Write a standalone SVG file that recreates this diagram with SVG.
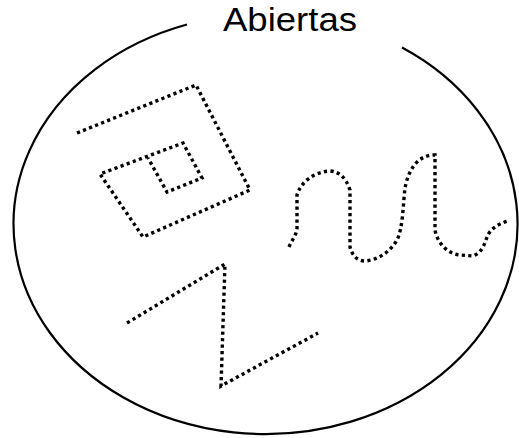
<svg xmlns="http://www.w3.org/2000/svg" width="519" height="438" viewBox="0 0 519 438">
<style>
.dot{fill:none;stroke:#000;stroke-width:3.4;stroke-dasharray:3.2 3.3;stroke-linejoin:miter}
.edge{fill:none;stroke:#000;stroke-width:2.2}
.lbl{font-family:"Liberation Sans",Arial,sans-serif;font-size:33px;fill:#000}
</style>
<rect width="519" height="438" fill="#fff"/>
<g id="set-boundary">
<path class="edge" d="M187,24.5 A252 210 0 1 0 402,47.5"/>
<text class="lbl" x="223" y="31" textLength="134" lengthAdjust="spacingAndGlyphs">Abiertas</text>
</g>
<g id="shapes">
<g id="spiral-square"><polyline class="dot" points="77,133 196,85 250,190 143,237 100,174 183,143 202,178 167,192 148,158"/></g>
<g id="wave"><path class="dot" d="M289,247 C292,240 297,234 297,228 L297,195 C300,184 312,172 330,171 C340,172 346,178 350,190 L350,247 C352,255 357,261 365,261 C378,260 390,252 397,240 C403,228 403,205 405,188 C408,172 416,156 433,155 L435,155 L435,230 C437,242 447,254 460,255 L473,256 C482,253 485,243 487,237 C490,229 498,224 508,221"/></g>
<g id="zigzag"><polyline class="dot" points="127,323 225,264 221,386 318,333"/></g>
</g>
</svg>
